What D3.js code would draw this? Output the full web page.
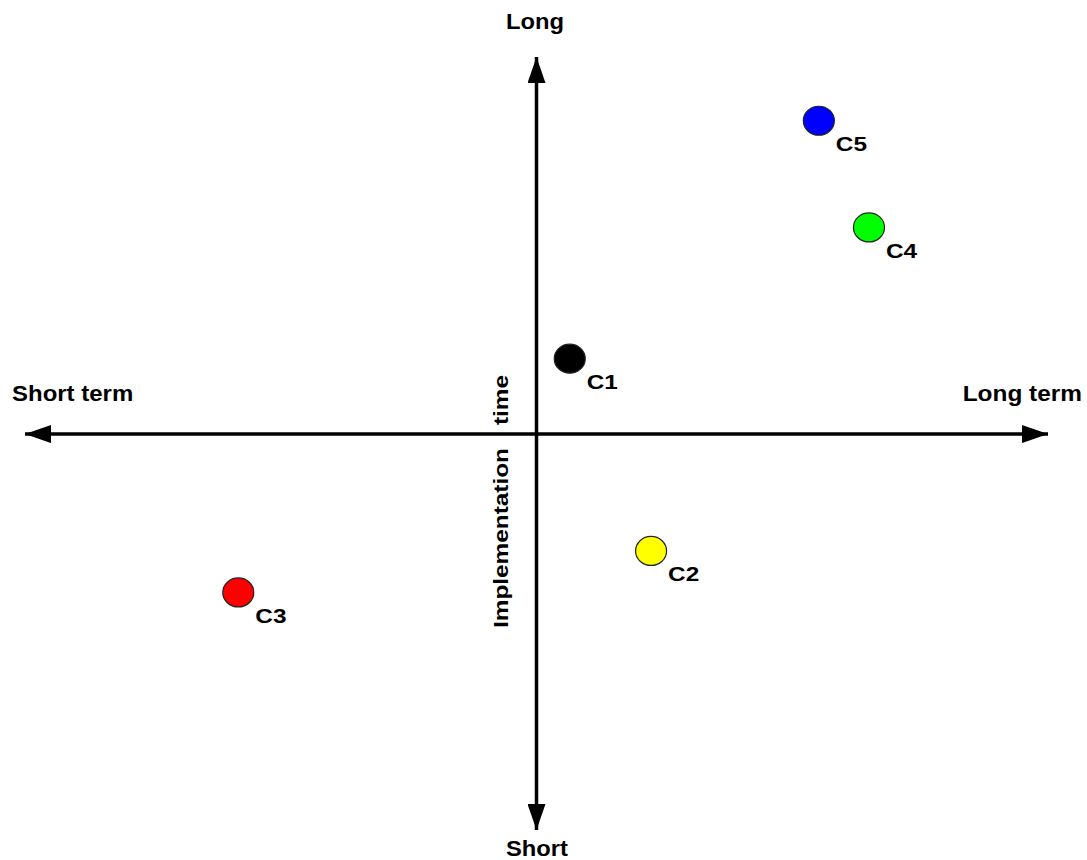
<!DOCTYPE html>
<html>
<head>
<meta charset="utf-8">
<script src="https://cdn.jsdelivr.net/npm/d3@7"></script>
<style>
  html, body { margin: 0; padding: 0; background: #fff; }
  svg text { font-family: "Liberation Sans", Arial, sans-serif; font-weight: bold; fill: #000; }
</style>
</head>
<body>
<svg id="chart" width="1087" height="860"></svg>
<script>
// ---- data ----
const labels = ["C1", "C2", "C3", "C4", "C5"];
const xValues = [0.65, 2.24, -5.83, 6.50, 5.52];   // Short term (-) … Long term (+)
const yValues = [2.00, -3.10, -4.20, 5.48, 8.31];  // Short (-) … Long (+) implementation time
const colors = ["#000000", "#ffff00", "#ff0000", "#00ff00", "#0000ff"];
const xAxisLabels = ["Short term", "Long term"];
const yAxisLabels = ["Short", "Long"];
const yTitleWords = ["Implementation", "time"];

const svg = d3.select("#chart");

const x = d3.scaleLinear().domain([-10, 10]).range([25, 1048]);
const y = d3.scaleLinear().domain([-10.5, 10]).range([830, 57]);

const defs = svg.append("defs");
defs.append("marker")
  .attr("id", "arrow")
  .attr("viewBox", "0 0 26 18")
  .attr("refX", 26).attr("refY", 9)
  .attr("markerWidth", 26).attr("markerHeight", 18)
  .attr("markerUnits", "userSpaceOnUse")
  .attr("orient", "auto-start-reverse")
  .append("path")
  .attr("d", "M0,0 L26,9 L0,18 Z")
  .attr("fill", "#000");

// horizontal axis (double arrow)
svg.append("line")
  .attr("x1", x(-10)).attr("x2", x(10))
  .attr("y1", y(0)).attr("y2", y(0))
  .attr("stroke", "#000").attr("stroke-width", 3.5)
  .attr("marker-start", "url(#arrow)")
  .attr("marker-end", "url(#arrow)");

// vertical axis (double arrow)
svg.append("line")
  .attr("x1", x(0)).attr("x2", x(0))
  .attr("y1", y(-10.5)).attr("y2", y(10))
  .attr("stroke", "#000").attr("stroke-width", 3.5)
  .attr("marker-start", "url(#arrow)")
  .attr("marker-end", "url(#arrow)");

// helper: horizontally widened text
function label(px, py, rot, sx, size, anchor, str) {
  return svg.append("text")
    .attr("transform", `translate(${px},${py}) rotate(${rot}) scale(${sx},1)`)
    .attr("font-size", size).attr("text-anchor", anchor).text(str);
}

// axis end labels
label(12, 401, 0, 1.09, 22, "start", xAxisLabels[0]);
label(1082, 401, 0, 1.11, 22, "end", xAxisLabels[1]);
label(535, 29, 0, 1.08, 22, "middle", yAxisLabels[1]);
label(537, 856, 0, 1.08, 22, "middle", yAxisLabels[0]);

// vertical axis title
label(508, 628, -90, 1.16, 21, "start", yTitleWords[0]);
label(508, 425, -90, 1.16, 21, "start", yTitleWords[1]);

// points
const pts = labels.map((l, i) => ({ label: l, x: xValues[i], y: yValues[i], color: colors[i] }));

const g = svg.append("g");
g.selectAll("ellipse").data(pts).join("ellipse")
  .attr("cx", d => x(d.x)).attr("cy", d => y(d.y))
  .attr("rx", 15.5).attr("ry", 14.5)
  .attr("fill", d => d.color)
  .attr("stroke", "#222").attr("stroke-width", 1.2);

g.selectAll("text").data(pts).join("text")
  .attr("transform", d => `translate(${x(d.x) + 17},${y(d.y) + 30.5}) scale(1.22,1)`)
  .attr("font-size", 20).text(d => d.label);
</script>
</body>
</html>
